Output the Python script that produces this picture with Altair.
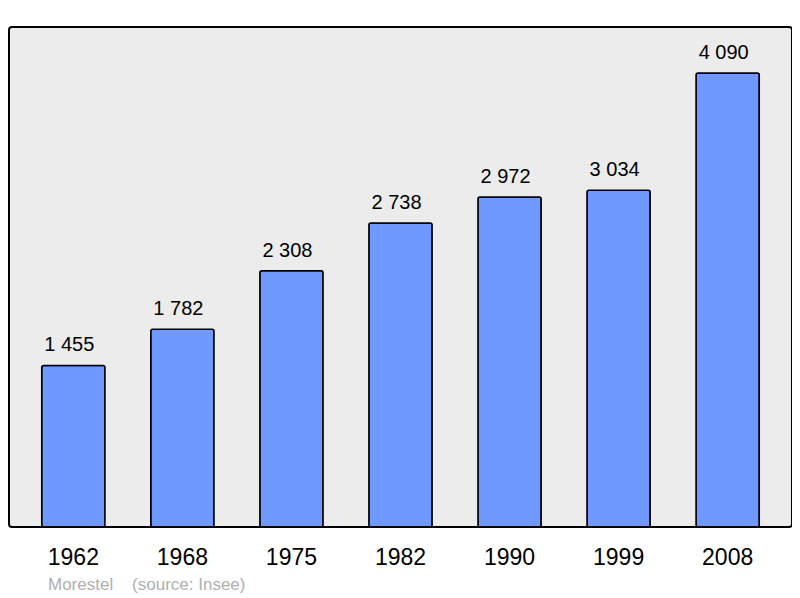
import altair as alt
import pandas as pd

years = ["1962", "1968", "1975", "1982", "1990", "1999", "2008"]
population = [1455, 1782, 2308, 2738, 2972, 3034, 4090]
labels = ["1 455", "1 782", "2 308", "2 738", "2 972", "3 034", "4 090"]

df = pd.DataFrame({"year": years, "pop": population, "label": labels})

x = alt.X("year:N", sort=years, title=None,
          scale=alt.Scale(paddingInner=0.42, paddingOuter=0.3),
          axis=alt.Axis(domain=False, ticks=False, labelAngle=0, labelFontSize=23,
                        labelFont="Liberation Sans", labelColor="#000000",
                        labelPadding=19))
y = alt.Y("pop:Q", title=None, scale=alt.Scale(domain=[0, 4504], nice=False),
          axis=None)

bars = alt.Chart(df).mark_bar(color="#7099ff", stroke="#000000", strokeWidth=1.5,
                              cornerRadius=2).encode(x=x, y=y)
text = alt.Chart(df).mark_text(baseline="alphabetic", dy=-14, dx=-4, fontSize=20,
                               font="Liberation Sans", color="#000000").encode(
    x=x, y=y, text="label:N")

chart = (bars + text).properties(
    width=783, height=500,
    padding={"left": 1, "top": 19, "right": 0, "bottom": 0},
    title=alt.TitleParams(text="Morestel\u00a0\u00a0\u00a0\u00a0(source: Insee)",
                          orient="bottom", anchor="start", dx=39, offset=8,
                          fontSize=17, font="Liberation Sans", fontWeight="normal",
                          color="#b0b0b0"),
).configure(background="#ffffff"
).configure_view(fill="#ececec", stroke="#000000", strokeWidth=2, cornerRadius=3)

chart.save("out.html", embed_options={"renderer": "svg", "actions": False})
